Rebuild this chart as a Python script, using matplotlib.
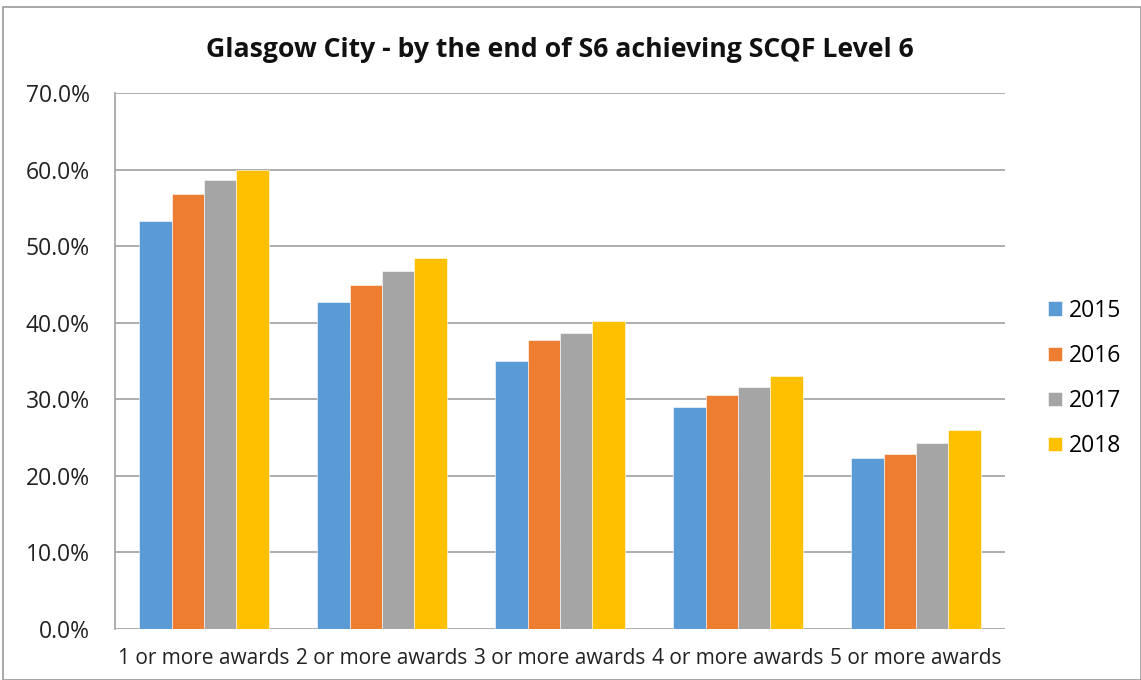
import matplotlib
matplotlib.use("Agg")
import matplotlib.pyplot as plt
import numpy as np
from matplotlib.patches import Rectangle
from matplotlib.ticker import FuncFormatter

categories = ["1 or more awards", "2 or more awards", "3 or more awards",
              "4 or more awards", "5 or more awards"]
years = ["2015", "2016", "2017", "2018"]
v2015 = [53.3, 42.7, 35.0, 29.0, 22.3]
v2016 = [56.8, 44.9, 37.8, 30.5, 22.9]
v2017 = [58.7, 46.7, 38.7, 31.6, 24.3]
v2018 = [60.0, 48.4, 40.2, 33.0, 26.0]
series = [v2015, v2016, v2017, v2018]
colors = ["#5B9BD5", "#ED7D31", "#A5A5A5", "#FFC000"]

plt.rcParams['font.family'] = ['Open Sans', 'DejaVu Sans']

fig = plt.figure(figsize=(11.41, 6.8), dpi=100)
ax = fig.add_axes([115/1141, 1-629/680, (1005-115)/1141, (629-93)/680])

x = np.arange(len(categories))
w = 0.1817
for i, (vals, c, yr) in enumerate(zip(series, colors, years)):
    ax.bar(x + (i - 1.5) * w, vals, width=w, color=c, label=yr,
           edgecolor='white', linewidth=0.4, zorder=3)

ax.set_xlim(-0.5, len(categories) - 0.5)
ax.set_ylim(0, 70)
ax.set_yticks(np.arange(0, 71, 10))
ax.yaxis.set_major_formatter(FuncFormatter(lambda v, p: f"{v:.1f}%"))
ax.set_xticks(x)
ax.set_xticklabels(categories)
ax.tick_params(axis='both', length=0, colors='#222222')
ax.tick_params(axis='y', pad=18, labelsize=16.5)
ax.tick_params(axis='x', pad=14, labelsize=15)
ax.grid(axis='y', color='#A0A0A0', linewidth=1.2, zorder=0)
for s in ['top', 'right', 'bottom']:
    ax.spines[s].set_visible(False)
ax.spines['left'].set_color('#A0A0A0')
ax.spines['left'].set_linewidth(1.2)

fig.text(560/1141, 1-50/680, "Glasgow City - by the end of S6 achieving SCQF Level 6",
         ha='center', va='center', fontsize=19.2, fontweight='bold', color='#111111')

leg = ax.legend(loc='center left', bbox_to_anchor=(1.038, 0.4675), frameon=False,
                fontsize=16.5, handlelength=0.6, handleheight=0.6,
                labelspacing=0.92, handletextpad=0.3, borderaxespad=0)

fig.patches.append(Rectangle((3/1141, 0.0), 1 - 3/1141, 1 - 7/680,
                             transform=fig.transFigure, fill=False,
                             edgecolor='#9A9A9A', linewidth=1.2))

fig.savefig("out.png", dpi=100)
